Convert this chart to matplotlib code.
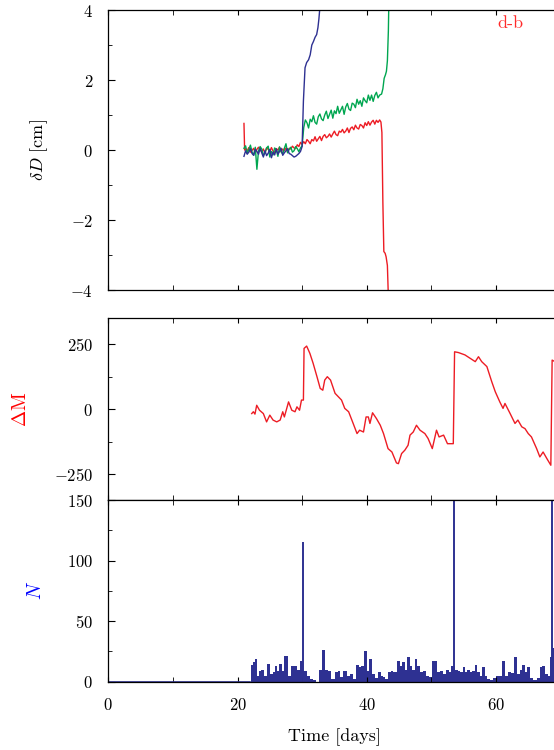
import matplotlib
matplotlib.use("Agg")
import matplotlib.pyplot as plt
from matplotlib.ticker import MultipleLocator, FixedLocator, FuncFormatter

plt.rcParams["font.family"] = "serif"
plt.rcParams["font.serif"] = ["cmr10"]
plt.rcParams["mathtext.fontset"] = "cm"
plt.rcParams["axes.formatter.use_mathtext"] = True

RED = "#ed1c24"
GREEN = "#00a650"
NAVY = "#2e3192"

# ---- displacement traces (cm) ----
t_red = [21.0, 21.1, 21.25, 21.5, 21.75, 22.0, 22.25, 22.5, 22.75, 23.0, 23.25, 23.5, 23.75,
         24.0, 24.25, 24.5, 24.75, 25.0, 25.25, 25.5, 25.75, 26.0, 26.25, 26.5, 26.75,
         27.0, 27.25, 27.5, 27.75, 28.0, 28.25, 28.5, 28.75, 29.0, 29.25, 29.5, 29.75,
         30.0, 30.25, 30.5, 30.75, 31.0, 31.25, 31.5, 31.75, 32.0, 32.25, 32.5, 32.75,
         33.0, 33.25, 33.5, 33.75, 34.0, 34.25, 34.5, 34.75, 35.0, 35.25, 35.5, 35.75,
         36.0, 36.25, 36.5, 36.75, 37.0, 37.25, 37.5, 37.75, 38.0, 38.25, 38.5, 38.75,
         39.0, 39.25, 39.5, 39.75, 40.0, 40.25, 40.5, 40.75, 41.0, 41.25, 41.5, 41.75,
         42.0, 42.2, 42.35, 42.5, 42.65, 42.85, 43.0, 43.2, 43.4]
dd_red = [0.76, 0.0, 0.04, -0.02, 0.07, -0.06, -0.01, 0.05, -0.08, 0.02, 0.08, 0.01, -0.05,
          0.03, -0.09, 0.06, 0.02, -0.04, 0.07, -0.03, -0.07, 0.04, 0.00, 0.08, -0.05,
          0.03, -0.02, 0.06, -0.06, 0.05, 0.03, 0.11, 0.06, 0.04, 0.15, 0.10, 0.22,
          0.16, 0.24, 0.18, 0.30, 0.25, 0.18, 0.30, 0.26, 0.38, 0.25, 0.32, 0.39,
          0.27, 0.39, 0.44, 0.35, 0.39, 0.46, 0.37, 0.46, 0.54, 0.44, 0.41, 0.54,
          0.51, 0.59, 0.49, 0.54, 0.63, 0.50, 0.62, 0.66, 0.58, 0.71, 0.63, 0.60,
          0.73, 0.70, 0.63, 0.78, 0.70, 0.81, 0.71, 0.80, 0.85, 0.74, 0.85, 0.79,
          0.86, 0.80, 0.5, -1.5, -2.9, -2.95, -3.05, -3.3, -4.5]

t_green = [21.0, 21.25, 21.5, 21.75, 22.0, 22.25, 22.5, 22.75, 23.0, 23.25, 23.5, 23.75,
           24.0, 24.25, 24.5, 24.75, 25.0, 25.25, 25.5, 25.75, 26.0, 26.25, 26.5, 26.75,
           27.0, 27.25, 27.5, 27.75, 28.0, 28.25, 28.5, 28.75, 29.0, 29.25, 29.5, 29.75,
           30.0, 30.25, 30.5, 30.75, 31.0, 31.25, 31.5, 31.75, 32.0, 32.25, 32.5, 32.75,
           33.0, 33.25, 33.5, 33.75, 34.0, 34.25, 34.5, 34.75, 35.0, 35.25, 35.5, 35.75,
           36.0, 36.25, 36.5, 36.75, 37.0, 37.25, 37.5, 37.75, 38.0, 38.25, 38.5, 38.75,
           39.0, 39.25, 39.5, 39.75, 40.0, 40.25, 40.5, 40.75, 41.0, 41.25, 41.5, 41.75,
           42.0, 42.3, 42.5, 42.7, 42.9, 43.05, 43.2, 43.35, 43.45]
dd_green = [0.05, 0.12, -0.10, 0.02, 0.14, -0.06, -0.15, 0.08, -0.55, -0.02, 0.10, 0.03,
            -0.16, -0.08, 0.06, 0.11, -0.20, -0.04, -0.14, 0.06, 0.01, -0.18, 0.09, -0.05,
            -0.12, 0.05, 0.18, -0.08, 0.02, 0.08, -0.06, -0.02, 0.10, 0.04, -0.05, 0.06,
            0.12, 0.64, 0.86, 0.78, 0.63, 0.88, 0.81, 0.98, 0.79, 0.74, 0.95, 1.03,
            0.89, 0.84, 1.00, 1.11, 0.90, 1.02, 1.14, 0.91, 1.12, 1.04, 1.25, 1.05,
            1.15, 1.25, 1.02, 1.23, 1.33, 1.17, 1.13, 1.34, 1.31, 1.21, 1.45, 1.31,
            1.41, 1.25, 1.49, 1.41, 1.35, 1.57, 1.42, 1.57, 1.39, 1.56, 1.65, 1.49,
            1.57, 1.60, 1.75, 2.05, 2.15, 2.25, 2.55, 3.4, 4.5]

t_blue = [21.0, 21.25, 21.5, 21.75, 22.0, 22.25, 22.5, 22.75, 23.0, 23.25, 23.5, 23.75,
          24.0, 24.25, 24.5, 24.75, 25.0, 25.25, 25.5, 25.75, 26.0, 26.25, 26.5, 26.75,
          27.0, 27.25, 27.5, 27.75, 28.0, 28.25, 28.5, 28.75, 29.0, 29.25, 29.5, 29.75,
          30.0, 30.2, 30.45, 30.7, 31.0, 31.25, 31.5, 31.75, 32.0, 32.25, 32.45, 32.6, 32.9]
dd_blue = [-0.18, -0.02, -0.12, -0.06, 0.04, -0.10, -0.15, 0.02, -0.04, -0.12, 0.05, -0.08,
           -0.20, -0.02, -0.16, -0.09, 0.02, -0.22, -0.06, -0.14, 0.03, -0.12, -0.04, 0.05,
           -0.15, -0.08, -0.02, 0.04, -0.10, -0.12, -0.16, -0.20, -0.18, -0.14, -0.10, -0.04,
           0.10, 1.4, 2.35, 2.5, 2.58, 2.72, 3.0, 3.1, 3.22, 3.3, 3.5, 3.75, 4.4]

# ---- Delta M ----
t_dm = [22.2, 22.45, 22.7, 22.97, 23.4, 24.0, 24.5, 25.0, 25.5, 26.07, 26.6, 27.0, 27.25,
        27.9, 28.4, 28.9, 29.2, 29.6, 29.9, 30.2, 30.3, 30.7, 31.2, 31.7, 32.3, 32.8,
        33.2, 33.5, 33.9, 34.4, 35.1, 35.6, 36.1, 36.6, 37.2, 37.7, 38.5, 38.9, 39.5,
        39.9, 40.25, 40.5, 40.9, 41.5, 42.1, 42.6, 43.3, 43.9, 44.6, 44.9, 45.4, 45.9,
        46.4, 46.7, 47.2, 47.7, 48.25, 49.0, 49.5, 50.15, 50.8, 51.2, 51.9, 52.5, 53.4,
        53.6, 54.2, 55.2, 56.25, 56.8, 57.3, 57.8, 58.6, 59.35, 59.9, 60.6, 61.1, 61.4,
        62.2, 62.95, 63.4, 64.0, 64.5, 65.0, 65.5, 66.3, 66.8, 67.3, 67.9, 68.5, 68.7,
        69.2, 69.8]
dm = [-17, -10, -19, 15, -4, -17, -49, -23, -42, -49, -42, -10, -30,
      28, -4, -10, 9, -4, 35, 35, 234, 243, 215, 177, 125, 80,
      73, 112, 125, 112, 61, 48, 35, 3, -10, -42, -94, -81, -88,
      -30, -30, -55, -14, -36, -62, -94, -152, -165, -207, -210, -171, -158,
      -139, -100, -88, -62, -81, -94, -113, -152, -81, -107, -100, -133, -133,
      221, 218, 209, 192, 183, 202, 183, 164, 106, 67, 28, 3, 22,
      -17, -55, -42, -68, -75, -94, -107, -152, -184, -165, -191, -216, 189,
      182, 176]

# ---- event counts N ----
t_n = [0.0, 21.7, 21.93, 22.19, 22.55, 22.86, 23.22, 23.48, 23.89, 24.26, 24.77, 25.29,
       25.55, 25.96, 26.17, 26.68, 26.99, 27.51, 28.02, 28.54, 28.9, 29.42, 29.78,
       30.45, 30.96, 31.48, 32.0, 32.36, 32.87, 33.39, 33.8, 34.22, 34.73, 35.35,
       35.76, 36.12, 36.64, 37.16, 37.67, 38.19, 38.55, 38.96, 39.38, 39.74, 40.25,
       40.61, 41.03, 41.54, 41.96, 42.32, 42.68, 43.09, 43.5, 43.87, 44.38, 44.9,
       45.31, 45.67, 46.03, 46.44, 46.86, 47.22, 47.58, 47.99, 48.41, 48.92, 49.44,
       49.95, 50.31, 50.68, 51.09, 51.6, 52.02, 52.53, 52.9, 53.25, 53.93, 54.29,
       54.7, 54.96, 55.32, 55.73, 56.15, 56.51, 56.92, 57.28, 57.69, 58.05, 58.42,
       58.83, 59.34, 59.76, 60.12, 60.63, 61.15, 61.67, 62.18, 62.54, 63.06, 63.47,
       63.89, 64.25, 64.61, 65.02, 65.54, 66.05, 66.57, 66.98, 67.34, 67.86, 68.22,
       68.53, 68.94, 69.3, 69.8]
n_counts = [0, 0, 0, 14, 16, 19, 5, 9, 10, 5, 15, 6,
            8, 13, 9, 15, 9, 21, 5, 13, 13, 10, 17,
            9, 5, 2, 1, 0, 10, 26, 10, 9, 2, 8,
            9, 4, 9, 5, 6, 2, 14, 12, 13, 25, 9,
            19, 6, 3, 8, 5, 4, 2, 8, 9, 8, 17,
            13, 16, 10, 20, 13, 10, 19, 13, 8, 9, 5,
            4, 17, 17, 8, 9, 6, 10, 8, 13, 10, 9,
            8, 12, 8, 10, 8, 9, 14, 8, 5, 12, 5,
            2, 1, 3, 5, 5, 17, 5, 8, 7, 20, 6,
            10, 14, 8, 12, 3, 1, 3, 12, 13, 6, 5,
            20, 28, 15, 10]
spike_t = [30.1, 53.56, 68.73]
spike_n = [115, 160, 160]

x_labels = [0, 20, 40, 60]

fig = plt.figure(figsize=(5.54, 7.5), dpi=100)
ax1 = fig.add_axes([0.1955, 0.6133, 0.9329, 0.3733])
ax2 = fig.add_axes([0.1955, 0.3333, 0.9329, 0.2423])
ax3 = fig.add_axes([0.1955, 0.0911, 0.9329, 0.2423])

# top: displacement
ax1.plot(t_red, dd_red, color=RED, lw=1.0)
ax1.plot(t_green, dd_green, color=GREEN, lw=1.0)
ax1.plot(t_blue, dd_blue, color=NAVY, lw=1.0)
ax1.set_ylim(-4, 4)
ax1.yaxis.set_major_locator(MultipleLocator(2))
ax1.yaxis.set_minor_locator(MultipleLocator(1))
ax1.set_ylabel(r"$\delta D$ [cm]", fontsize=13)
ax1.yaxis.set_label_coords(-0.113, 0.5)
ax1.text(60.2, 3.49, "d-b", color="#ff2a2a", fontsize=13, va="baseline", ha="left")

# middle: Delta M
ax2.plot(t_dm, dm, color=RED, lw=1.0)
ax2.set_ylim(-350, 350)
ax2.yaxis.set_major_locator(MultipleLocator(250))
ax2.yaxis.set_minor_locator(MultipleLocator(125))
ax2.set_ylabel(r"$\Delta$M", color="#ff0000", fontsize=14)
ax2.yaxis.set_label_coords(-0.151, 0.5)

# bottom: N
ax3.plot([0, 21.9], [0, 0], color=NAVY, lw=1.2)
ax3.fill_between(t_n, n_counts, step="mid", color=NAVY, lw=0)
ax3.vlines(spike_t, 0, spike_n, color=NAVY, lw=1.4)
ax3.set_ylim(0, 150)
ax3.yaxis.set_major_locator(MultipleLocator(50))
ax3.yaxis.set_minor_locator(MultipleLocator(25))
ax3.set_ylabel(r"$N$", color="#0000ff", fontsize=14)
ax3.yaxis.set_label_coords(-0.122, 0.5)
ax3.set_xlabel("Time [days]", fontsize=13)
ax3.xaxis.set_label_coords(0.437, -0.255)

for ax in (ax1, ax2, ax3):
    ax.set_xlim(0, 80)
    ax.xaxis.set_major_locator(FixedLocator(x_labels))
    ax.xaxis.set_minor_locator(MultipleLocator(10))
    ax.tick_params(which="both", direction="in", top=True, right=True, labelsize=12, pad=11)
    ax.tick_params(which="major", axis="y", length=4.8)
    ax.tick_params(which="minor", axis="y", length=2.9)
    ax.tick_params(which="both", axis="x", length=3.6)
    for s in ax.spines.values():
        s.set_linewidth(0.9)
for ax in (ax1, ax2):
    ax.tick_params(labelbottom=False)
ax3.xaxis.set_major_formatter(FuncFormatter(lambda v, p: f"${v:.0f}$"))

fig.savefig("out.png", dpi=100)
